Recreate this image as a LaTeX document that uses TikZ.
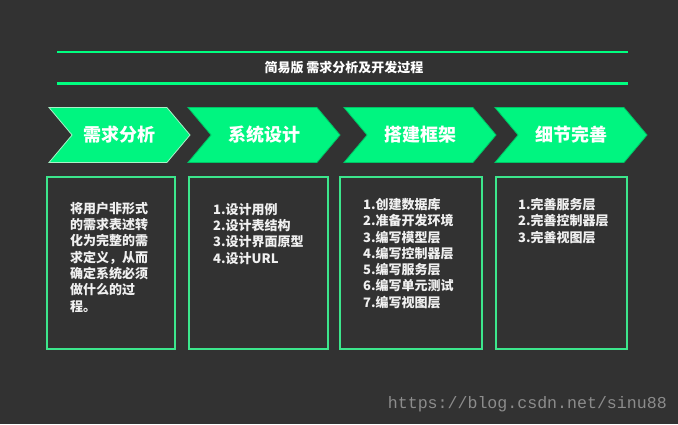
\documentclass[tikz,border=0pt]{standalone}
\usepackage{fontspec}
\setmainfont{Noto Sans CJK SC}
\newfontfamily\urlfont{Liberation Mono}
\usepackage{xcolor}
\usetikzlibrary{shapes.symbols,positioning}

\definecolor{bgdark}{RGB}{50,50,50}
\definecolor{stepgreen}{RGB}{0,245,128}
\definecolor{rulegreen}{RGB}{0,255,128}
\definecolor{boxgreen}{RGB}{60,230,140}
\definecolor{palegreen}{RGB}{170,240,200}
\definecolor{marktext}{RGB}{140,140,140}

\begin{document}
\begin{tikzpicture}[
    x=1pt, y=-1pt,
    stage/.style={signal, signal from=west, signal to=east, signal pointer angle=100,
        fill=stepgreen, draw=stepgreen!80!black, line width=0.8pt,
        minimum width=152pt, minimum height=55pt, inner sep=0pt,
        text=white, font=\fontsize{18}{18}\selectfont\bfseries},
    panel/.style={rectangle, draw=boxgreen, line width=2pt,
        minimum height=172pt, inner sep=0pt},
    items/.style={anchor=north west, align=left, inner sep=0pt, text=white!94!black,
        font=\fontsize{13}{16.3}\selectfont\bfseries}
]
\fill[bgdark] (0,0) rectangle (678,424);
\useasboundingbox (0,0) rectangle (678,424);

% title between two rules
\draw[rulegreen, line width=2pt] (57,52) -- (628,52);
\draw[rulegreen, line width=3pt] (57,83) -- (628,83);
\node[text=white, font=\fontsize{13}{13}\selectfont\bfseries] (title) at (344,68) {简易版 需求分析及开发过程};

% stages
\node[stage, minimum width=141pt, draw=palegreen] (analyse) at (119.5,135) {需求分析};
\node[stage] (design) at (264,135) {系统设计};
\node[stage] (frame) at (420,135) {搭建框架};
\node[stage] (detail) at (571,135) {细节完善};

% panels
\node[panel, minimum width=128pt] (box1) at (111,263) {};
\node[panel, minimum width=139pt] (box2) at (258.5,263) {};
\node[panel, minimum width=142pt] (box3) at (411,263) {};
\node[panel, minimum width=131pt] (box4) at (561.5,263) {};

\node[items] (text1) at (70,202) {将用户非形式\\的需求表述转\\化为完整的需\\求定义，从而\\确定系统必须\\做什么的过\\程。};
\node[items] (text2) at (213,203) {1.设计用例\\2.设计表结构\\3.设计界面原型\\4.设计URL};
\node[items] (text3) at (363,198) {1.创建数据库\\2.准备开发环境\\3.编写模型层\\4.编写控制器层\\5.编写服务层\\6.编写单元测试\\7.编写视图层};
\node[items] (text4) at (518,198) {1.完善服务层\\2.完善控制器层\\3.完善视图层};

\node[anchor=east, inner sep=0pt, text=marktext, font=\urlfont\fontsize{16.6}{16.6}\selectfont] (mark) at (667,404) {https://blog.csdn.net/sinu88};
\end{tikzpicture}
\end{document}
